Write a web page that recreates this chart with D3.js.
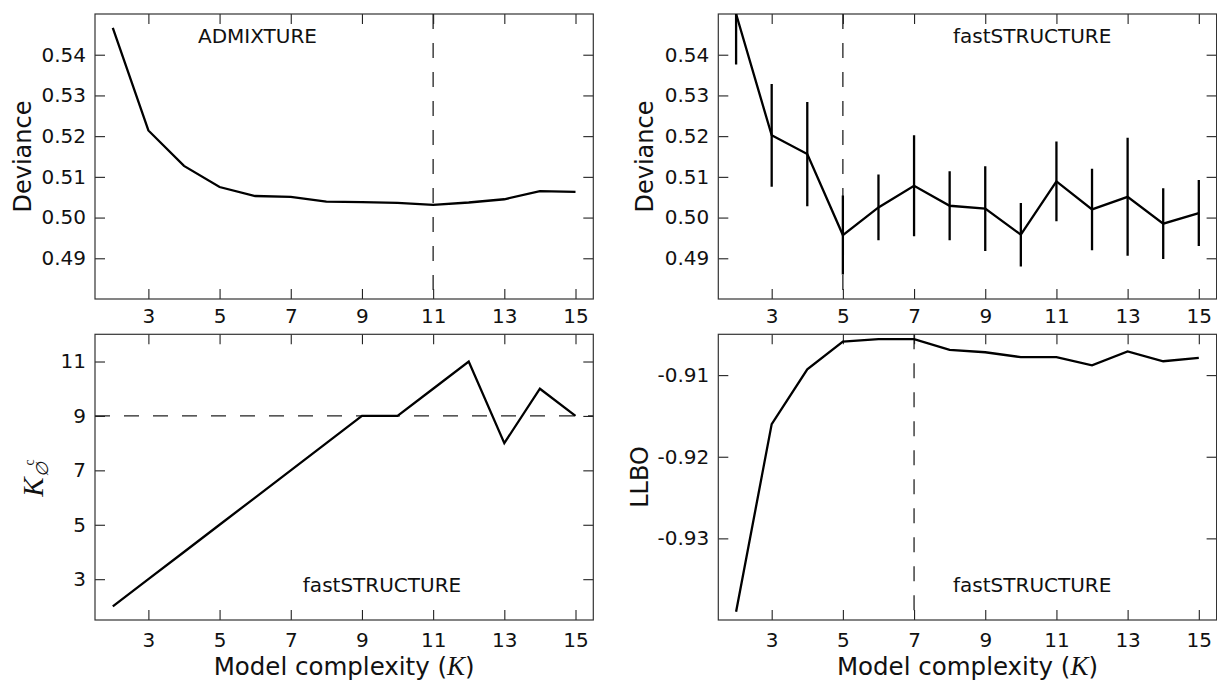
<!DOCTYPE html>
<html>
<head>
<meta charset="utf-8">
<script src="https://cdn.jsdelivr.net/npm/d3@7"></script>
<style>
  body { margin: 0; background: #fff; }
  svg { display: block; font-family: "DejaVu Sans", sans-serif; }
</style>
</head>
<body>
<div id="chart"></div>
<script>
// Data
const kValues = [2, 3, 4, 5, 6, 7, 8, 9, 10, 11, 12, 13, 14, 15];
const admixtureDeviance = [0.5466, 0.5214, 0.5127, 0.5075, 0.5053, 0.5051, 0.5039, 0.5038, 0.5036, 0.5031, 0.5037, 0.5045, 0.5065, 0.5063];
const fastDeviance = [0.5500, 0.5202, 0.5156, 0.4957, 0.5025, 0.5078, 0.5029, 0.5022, 0.4958, 0.5089, 0.5020, 0.5051, 0.4985, 0.5011];
const fastDevianceErr = [0.0124, 0.0126, 0.0128, 0.0097, 0.0081, 0.0124, 0.0085, 0.0104, 0.0078, 0.0098, 0.0100, 0.0145, 0.0087, 0.0081];
const fastKc = [2, 3, 4, 5, 6, 7, 8, 9, 9, 10, 11, 8, 10, 9];
const fastLLBO = [-0.9390, -0.9160, -0.9093, -0.9059, -0.9056, -0.9056, -0.9069, -0.9072, -0.9078, -0.9078, -0.9088, -0.9071, -0.9083, -0.9079];

const xTicks = [3, 5, 7, 9, 11, 13, 15];
const devianceTicks = [0.49, 0.50, 0.51, 0.52, 0.53, 0.54];
const kcTicks = [3, 5, 7, 9, 11];
const llboTicks = [-0.93, -0.92, -0.91];

const width = 1217, height = 681;
const panelW = 498.3;
const fontSize = 20;
const lineW = 2.3;

const svg = d3.select("#chart")
    .append("svg")
    .attr("width", width)
    .attr("height", height);

const x = d3.scaleLinear().domain([1.5, 15.5]);

function drawPanel(opts) {
    const { left, top, h, yDomain, yTicks, yFormat, id } = opts;
    const xs = x.copy().range([left, left + panelW]);
    const ys = d3.scaleLinear().domain(yDomain).range([top + h, top]);

    svg.append("clipPath").attr("id", id)
        .append("rect")
        .attr("x", left).attr("y", top)
        .attr("width", panelW).attr("height", h);

    // ticks on all four sides, pointing inwards
    const bottom = svg.append("g")
        .attr("transform", `translate(0,${top + h})`)
        .call(d3.axisBottom(xs).tickValues(xTicks).tickSizeInner(-10).tickSizeOuter(0)
            .tickPadding(13).tickFormat(opts.bottomLabels ? d3.format("d") : () => ""));
    const topAx = svg.append("g")
        .attr("transform", `translate(0,${top})`)
        .call(d3.axisTop(xs).tickValues(xTicks).tickSizeInner(-10).tickSizeOuter(0)
            .tickPadding(11).tickFormat(opts.topLabels ? d3.format("d") : () => ""));
    const leftAx = svg.append("g")
        .attr("transform", `translate(${left},0)`)
        .call(d3.axisLeft(ys).tickValues(yTicks).tickSizeInner(-10).tickSizeOuter(0)
            .tickPadding(9).tickFormat(yFormat));
    const rightAx = svg.append("g")
        .attr("transform", `translate(${left + panelW},0)`)
        .call(d3.axisRight(ys).tickValues(yTicks).tickSizeInner(-10).tickSizeOuter(0)
            .tickFormat(() => ""));

    [bottom, topAx, leftAx, rightAx].forEach(g => {
        g.select(".domain").remove();
        g.selectAll(".tick line").attr("stroke", "#222").attr("stroke-width", 1.1);
        g.selectAll(".tick text")
            .attr("fill", "#111")
            .style("font-size", fontSize + "px")
            .style("font-family", "DejaVu Sans");
    });

    // frame
    svg.append("rect")
        .attr("x", left).attr("y", top)
        .attr("width", panelW).attr("height", h)
        .attr("fill", "none")
        .attr("stroke", "#333")
        .attr("stroke-width", 1.2);

    const plot = svg.append("g").attr("clip-path", `url(#${id})`);

    // reference dashed line
    if (opts.vline !== undefined) {
        plot.append("line")
            .attr("x1", xs(opts.vline)).attr("x2", xs(opts.vline))
            .attr("y1", top).attr("y2", top + h)
            .attr("stroke", "#222").attr("stroke-width", 1.3)
            .attr("stroke-dasharray", "15,14");
    }
    if (opts.hline !== undefined) {
        plot.append("line")
            .attr("x1", left).attr("x2", left + panelW)
            .attr("y1", ys(opts.hline)).attr("y2", ys(opts.hline))
            .attr("stroke", "#222").attr("stroke-width", 1.3)
            .attr("stroke-dasharray", "15,14");
    }

    // error bars
    if (opts.err) {
        plot.selectAll(".err")
            .data(kValues)
            .enter().append("line")
            .attr("x1", (d) => xs(d)).attr("x2", (d) => xs(d))
            .attr("y1", (d, i) => ys(opts.values[i] - opts.err[i]))
            .attr("y2", (d, i) => ys(opts.values[i] + opts.err[i]))
            .attr("stroke", "#000").attr("stroke-width", lineW);
    }

    const line = d3.line()
        .x((d) => xs(d[0]))
        .y((d) => ys(d[1]));

    plot.append("path")
        .datum(kValues.map((k, i) => [k, opts.values[i]]))
        .attr("d", line)
        .attr("fill", "none")
        .attr("stroke", "#000")
        .attr("stroke-width", lineW)
        .attr("stroke-linejoin", "miter");

    // method annotation
    svg.append("text")
        .attr("x", left + opts.noteX * panelW)
        .attr("y", opts.noteAtTop ? top + 29 : top + h - 28)
        .attr("text-anchor", "middle")
        .style("font-size", fontSize + "px")
        .attr("fill", "#111")
        .text(opts.note);

    return { xs, ys };
}

const fmt2 = (d) => d.toFixed(2);

drawPanel({
    id: "c1", left: 95, top: 14, h: 285,
    yDomain: [0.48, 0.55], yTicks: devianceTicks, yFormat: fmt2,
    values: admixtureDeviance, vline: 11,
    note: "ADMIXTURE", noteX: 0.326, noteAtTop: true
});
drawPanel({
    id: "c2", left: 718.3, top: 14, h: 285,
    yDomain: [0.48, 0.55], yTicks: devianceTicks, yFormat: fmt2,
    values: fastDeviance, err: fastDevianceErr, vline: 5,
    note: "fastSTRUCTURE", noteX: 0.63, noteAtTop: true
});
drawPanel({
    id: "c3", left: 95, top: 334.3, h: 285.7,
    yDomain: [1.5, 12], yTicks: kcTicks, yFormat: d3.format("d"),
    values: fastKc, hline: 9, topLabels: true, bottomLabels: true,
    note: "fastSTRUCTURE", noteX: 0.576, noteAtTop: false
});
drawPanel({
    id: "c4", left: 718.3, top: 334.3, h: 285.7,
    yDomain: [-0.94, -0.905], yTicks: llboTicks, yFormat: fmt2,
    values: fastLLBO, vline: 7, topLabels: true, bottomLabels: true,
    note: "fastSTRUCTURE", noteX: 0.63, noteAtTop: false
});

// axis titles
function yLabel(xPos, yPos, text) {
    svg.append("text")
        .attr("transform", `translate(${xPos},${yPos}) rotate(-90)`)
        .attr("text-anchor", "middle")
        .style("font-size", "24px")
        .attr("fill", "#111")
        .text(text);
}
yLabel(30.5, 156.5, "Deviance");
yLabel(653, 156.5, "Deviance");
yLabel(648, 477, "LLBO");

// K with empty-set subscript and c superscript
const kc = svg.append("text")
    .attr("transform", "translate(43,478) rotate(-90)")
    .attr("text-anchor", "middle")
    .attr("fill", "#111");
kc.append("tspan")
    .style("font-family", "Liberation Serif")
    .style("font-style", "italic")
    .style("font-size", "29px")
    .text("K");
kc.append("tspan")
    .attr("dy", 5)
    .style("font-family", "DejaVu Serif")
    .style("font-style", "italic")
    .style("font-size", "17px")
    .text("\u2205");
kc.append("tspan")
    .attr("dy", -14)
    .attr("dx", -3)
    .style("font-family", "Liberation Serif")
    .style("font-size", "14px")
    .text("c");

function xLabel(cx) {
    const t = svg.append("text")
        .attr("x", cx)
        .attr("y", 675)
        .attr("text-anchor", "middle")
        .style("font-size", "24.5px")
        .attr("fill", "#111");
    t.append("tspan").text("Model complexity (");
    t.append("tspan")
        .style("font-family", "Liberation Serif")
        .style("font-style", "italic")
        .style("font-size", "27px")
        .text("K");
    t.append("tspan").text(")");
}
xLabel(95 + panelW / 2);
xLabel(718.3 + panelW / 2);
</script>
</body>
</html>
